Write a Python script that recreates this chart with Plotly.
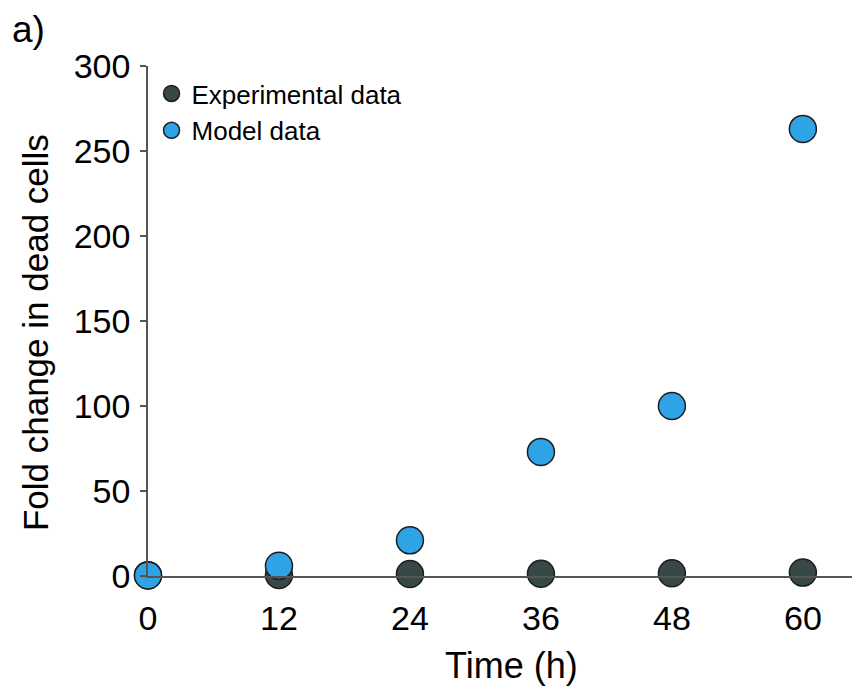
import plotly.graph_objects as go

# Time points (h) and fold change in dead cells
time_h = [0, 12, 24, 36, 48, 60]
experimental = [0.5, 0.6, 1.2, 1.3, 1.6, 2.0]
model = [0.3, 6, 21, 73, 100, 263]

x_ticks = [0, 12, 24, 36, 48, 60]
y_ticks = [0, 50, 100, 150, 200, 250, 300]

FONT = "Liberation Sans, Arial, sans-serif"
AXIS_GREY = "#555555"

fig = go.Figure()
fig.add_trace(go.Scatter(
    x=time_h, y=experimental, mode="markers", name="Experimental data",
    marker=dict(size=27, color="#374846", line=dict(color="#1e1e1e", width=1.5)),
    cliponaxis=False,
))
fig.add_trace(go.Scatter(
    x=time_h, y=model, mode="markers", name="Model data",
    marker=dict(size=27, color="#2ea3e6", line=dict(color="#1e1e1e", width=1.5)),
    cliponaxis=False,
))

fig.update_layout(
    width=852, height=694,
    margin=dict(l=148, r=0, t=66, b=118),
    paper_bgcolor="white", plot_bgcolor="white",
    font=dict(family=FONT, color="black"),
    showlegend=True,
    legend=dict(
        x=0.005, y=0.992, xanchor="left", yanchor="top",
        font=dict(size=26, family=FONT),
        bgcolor="rgba(0,0,0,0)", itemsizing="trace",
        tracegroupgap=0, itemwidth=30,
    ),
    annotations=[
        dict(text="a)", xref="paper", yref="paper", x=-0.196, y=1.072,
             xanchor="left", yanchor="middle", showarrow=False,
             font=dict(size=37, family=FONT)),
        dict(text="Time (h)", xref="paper", yref="paper", x=0.517, y=-0.176,
             xanchor="center", yanchor="middle", showarrow=False,
             font=dict(size=36, family=FONT)),
        dict(text="Fold change in dead cells", xref="paper", yref="paper",
             x=-0.16, y=0.477, xanchor="center", yanchor="middle",
             textangle=-90, showarrow=False,
             font=dict(size=35, family=FONT)),
    ],
)

fig.update_xaxes(
    range=[0, 64.5], tickvals=x_ticks, ticktext=[str(v) for v in x_ticks],
    showgrid=False, zeroline=False, showline=True, linecolor=AXIS_GREY,
    linewidth=1.5, ticks="", tickfont=dict(size=34, family=FONT),
    ticklabelstandoff=11,
)
fig.update_yaxes(
    range=[0, 300], tickvals=y_ticks, showgrid=False, zeroline=False,
    showline=True, linecolor=AXIS_GREY, linewidth=1.5,
    ticks="outside", ticklen=6, tickcolor=AXIS_GREY, tickwidth=1.5,
    tickfont=dict(size=34, family=FONT), ticklabelstandoff=3,
)

fig.write_html("out.html")
